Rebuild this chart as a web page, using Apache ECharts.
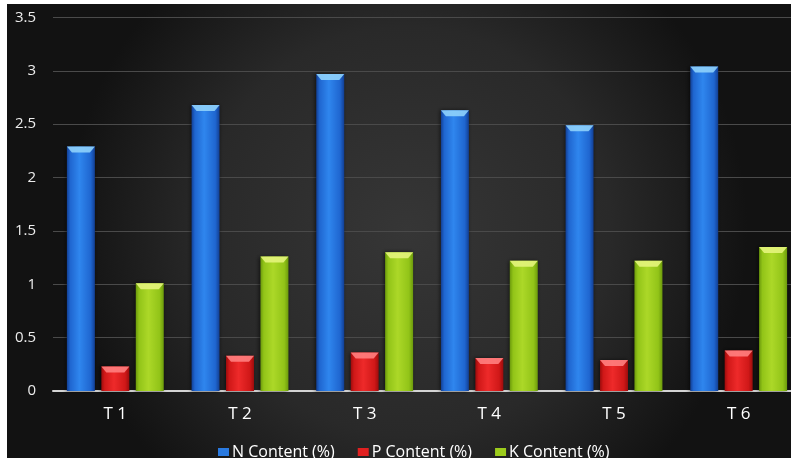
<!DOCTYPE html>
<html>
<head>
<meta charset="utf-8">
<script src="https://cdn.jsdelivr.net/npm/echarts@6/dist/echarts.min.js"></script>
<style>
  html, body { margin: 0; padding: 0; background: #ffffff; }
  #wrap { position: absolute; left: 0; top: 0; width: 791px; height: 458px; background: #ffffff; overflow: hidden; }
  #chart { position: absolute; left: 7px; top: 4px; width: 800px; height: 454px; }
</style>
</head>
<body>
<div id="wrap"><div id="chart"></div></div>
<script>
const categories = ['T 1', 'T 2', 'T 3', 'T 4', 'T 5', 'T 6'];
const seriesNames = ['N Content (%)', 'P Content (%)', 'K Content (%)'];
const nContent = [2.29, 2.68, 2.97, 2.63, 2.49, 3.04];
const pContent = [0.23, 0.33, 0.36, 0.31, 0.29, 0.38];
const kContent = [1.01, 1.26, 1.30, 1.22, 1.22, 1.35];
const yTicks = { min: 0, max: 3.5, interval: 0.5 };

const chart = echarts.init(document.getElementById('chart'), null, { renderer: 'canvas' });

function hGrad(edge, mid, light) {
  return new echarts.graphic.LinearGradient(0, 0, 1, 0, [
    { offset: 0, color: edge },
    { offset: 0.12, color: mid },
    { offset: 0.45, color: light },
    { offset: 0.85, color: mid },
    { offset: 1, color: edge }
  ]);
}
const styles = [
  { bar: hGrad('#123f94', '#1f66d0', '#2f86ee'), cap: '#8fd2fb', legend: '#2a7ae0' },
  { bar: hGrad('#9c0c0c', '#d01818', '#ee2a2a'), cap: '#ff8080', legend: '#e02020' },
  { bar: hGrad('#6c9a0c', '#92c418', '#acd828'), cap: '#e4f47c', legend: '#9ccc1c' }
];
const dataSets = [nContent, pContent, kContent];

const BAR_W = 28, GAP = '23%', CAT_GAP = '22%';
const series = [];
dataSets.forEach((d, i) => {
  series.push({
    name: seriesNames[i],
    type: 'bar',
    data: d,
    barWidth: BAR_W,
    barGap: GAP,
    barCategoryGap: CAT_GAP,
    itemStyle: { color: styles[i].bar, shadowColor: 'rgba(0,0,0,0.6)', shadowBlur: 4, shadowOffsetX: -1 },
    z: 2
  });
});
dataSets.forEach((d, i) => {
  series.push({
    name: 'cap' + i,
    type: 'pictorialBar',
    data: d,
    barWidth: BAR_W,
    barGap: GAP,
    barCategoryGap: CAT_GAP,
    symbol: 'path://M0,0 L28,0 L23,6 L5,6 Z',
    symbolSize: [BAR_W, 6],
    symbolPosition: 'end',
    symbolRepeat: false,
    itemStyle: { color: styles[i].cap, opacity: 0.9 },
    silent: true,
    z: 3
  });
});

const option = {
  animation: false,
  backgroundColor: {
    type: 'radial', x: 0.5, y: 0.5, r: 0.75,
    colorStops: [
      { offset: 0, color: '#363636' },
      { offset: 0.6, color: '#292929' },
      { offset: 1, color: '#121212' }
    ]
  },
  textStyle: { fontFamily: '"Open Sans", "DejaVu Sans", sans-serif' },
  grid: { left: 46, top: 13.5, width: 748, height: 373.5, containLabel: false },
  legend: {
    data: seriesNames.map((n, i) => ({ name: n, itemStyle: { color: styles[i].legend } })),
    left: 206, top: 435, padding: 5,
    icon: 'rect', itemWidth: 11, itemHeight: 8, itemGap: 23,
    textStyle: { color: '#ffffff', fontSize: 16, fontFamily: '"Open Sans", sans-serif', padding: [0, 0, 0, -2] }
  },
  xAxis: {
    type: 'category',
    data: categories,
    axisLine: { show: true, lineStyle: { color: '#d4d4d4', width: 2 } },
    axisTick: { show: false },
    axisLabel: { color: '#ffffff', fontSize: 17, margin: 15 },
    splitLine: { show: false }
  },
  yAxis: {
    type: 'value',
    min: yTicks.min, max: yTicks.max, interval: yTicks.interval,
    axisLine: { show: false },
    axisTick: { show: false },
    axisLabel: { color: '#ececec', fontSize: 15, margin: 17 },
    splitLine: { lineStyle: { color: '#4a4a4a', width: 1 } }
  },
  series: series
};
chart.setOption(option);
</script>
</body>
</html>
